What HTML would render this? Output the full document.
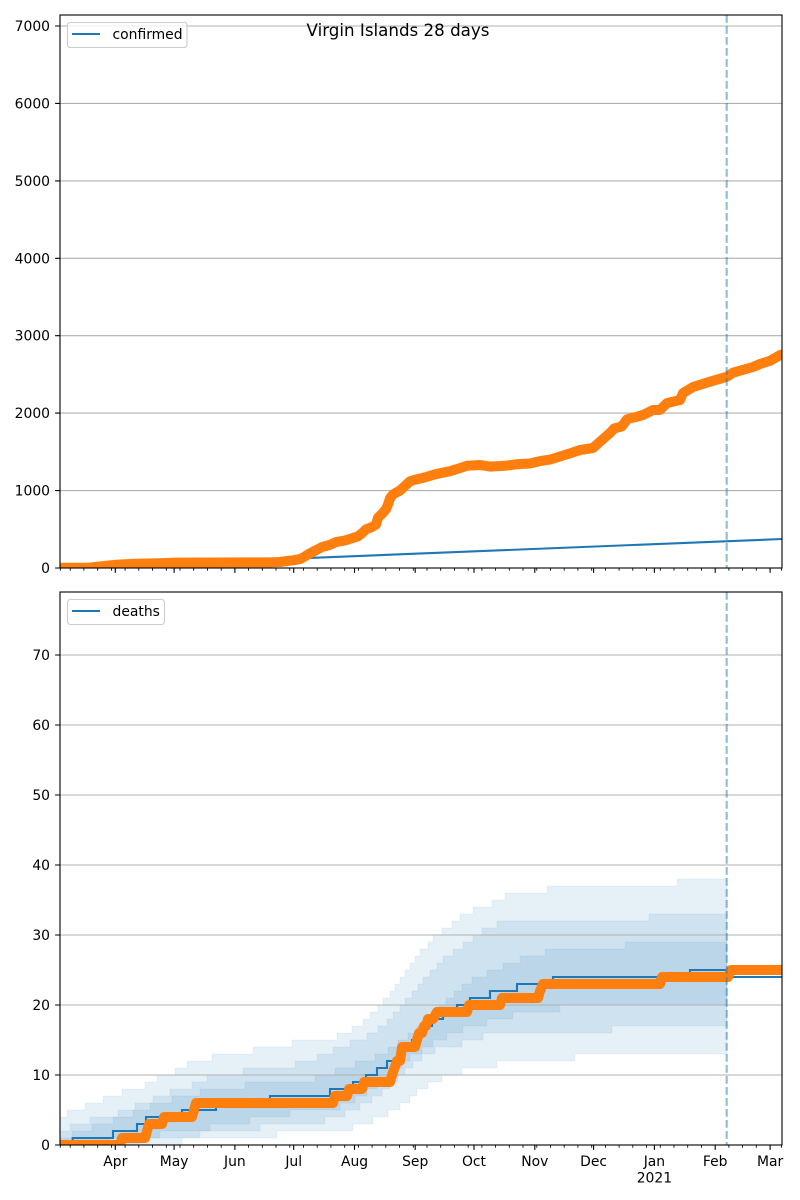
<!DOCTYPE html>
<html><head><meta charset="utf-8"><style>body{margin:0;background:#fff}svg{display:block}</style></head>
<body>
<svg width="800" height="1200" viewBox="0 0 800 1200" xmlns="http://www.w3.org/2000/svg" font-family="'DejaVu Sans','Liberation Sans',sans-serif" font-size="13.9" fill="#000">
<defs>
<clipPath id="c1"><rect x="60" y="15" width="722" height="553"/></clipPath>
<clipPath id="c2"><rect x="60" y="592" width="722" height="553"/></clipPath>
</defs>
<rect width="800" height="1200" fill="#fff"/>

<!-- ================= TOP AXES ================= -->
<g stroke="#b0b0b0" stroke-width="1.1">
<path d="M60 490.6H782M60 413.1H782M60 335.7H782M60 258.3H782M60 180.9H782M60 103.4H782M60 26H782"/>
</g>
<g clip-path="url(#c1)">
<line x1="60" y1="568" x2="782" y2="539" stroke="#1f77b4" stroke-width="2.1"/>
<polyline fill="none" stroke="#ff7f0e" stroke-width="10" stroke-linejoin="round" stroke-linecap="round" points="60,567.8 90,567.6 100,566.5 110,565.3 120,564.5 135,563.7 160,563.2 175,562.6 270,562.4 280,562.0 287,561.0 293,560.3 300,559.1 305,556.4 310,553.3 316,550.2 322,547.1 330,544.8 336,542.1 345,540.5 352,538.2 358,536.3 362,533.2 366,529.3 372,527.0 376,524.6 378,517.7 382,513.8 386,509.2 388,504.5 390,498.3 393,494.4 397,492.1 400,490.6 405,485.9 410,481.3 415,479.7 425,477.4 435,474.3 450,471.2 460,468.1 467,465.8 480,465.0 490,466.6 505,465.8 517,464.2 530,463.5 540,461.1 550,459.6 560,456.5 570,453.4 580,450.0 593,448.0 600,441.7 610,433.0 614,428.6 622,426.3 627,419.3 643,415.0 653,410.0 660,410.0 667,403.1 680,400.0 683,393.0 693,387.0 710,381.7 727,376.7 733,372.7 753,367.0 760,364.0 770,360.7 780,355.1 786,353.5"/>
<line x1="726.7" y1="15" x2="726.7" y2="568" stroke="#1f77b4" stroke-opacity="0.5" stroke-width="2.1" stroke-dasharray="7.7,3.3"/>
</g>
<rect x="60" y="15" width="722" height="553" fill="none" stroke="#000" stroke-width="1.1"/>
<!-- top y ticks -->
<path stroke="#000" stroke-width="1.1" d="M55.1 568h4.9M55.1 490.6h4.9M55.1 413.1h4.9M55.1 335.7h4.9M55.1 258.3h4.9M55.1 180.9h4.9M55.1 103.4h4.9M55.1 26h4.9"/>
<g text-anchor="end">
<text x="50" y="573">0</text>
<text x="50" y="495.6">1000</text>
<text x="50" y="418.1">2000</text>
<text x="50" y="340.7">3000</text>
<text x="50" y="263.3">4000</text>
<text x="50" y="185.9">5000</text>
<text x="50" y="108.4">6000</text>
<text x="50" y="31">7000</text>
</g>
<!-- top x ticks -->
<path stroke="#000" stroke-width="1.1" d="M115.3 568v4.9M174.1 568v4.9M234.9 568v4.9M293.7 568v4.9M354.5 568v4.9M415.2 568v4.9M474 568v4.9M534.8 568v4.9M593.6 568v4.9M654.4 568v4.9M715.2 568v4.9M770.1 568v4.9"/>
<path stroke="#000" stroke-width="0.85" d="M60.3 568v2.8M70.2 568v2.8M83.9 568v2.8M97.7 568v2.8M111.4 568v2.8M125.1 568v2.8M138.8 568v2.8M152.5 568v2.8M166.3 568v2.8M180 568v2.8M193.7 568v2.8M207.4 568v2.8M221.2 568v2.8M248.6 568v2.8M262.3 568v2.8M276 568v2.8M289.8 568v2.8M303.5 568v2.8M317.2 568v2.8M330.9 568v2.8M344.7 568v2.8M358.4 568v2.8M372.1 568v2.8M385.8 568v2.8M399.5 568v2.8M413.3 568v2.8M427 568v2.8M440.7 568v2.8M454.4 568v2.8M468.2 568v2.8M481.9 568v2.8M495.6 568v2.8M509.3 568v2.8M523 568v2.8M536.8 568v2.8M550.5 568v2.8M564.2 568v2.8M577.9 568v2.8M591.7 568v2.8M605.4 568v2.8M619.1 568v2.8M632.8 568v2.8M646.5 568v2.8M660.3 568v2.8M674 568v2.8M687.7 568v2.8M701.4 568v2.8M728.9 568v2.8M742.6 568v2.8M756.3 568v2.8M781.5 568v2.8"/>
<!-- top legend -->
<rect x="67.5" y="22.5" width="119.5" height="25" rx="2.8" fill="#fff" fill-opacity="0.8" stroke="#cccccc" stroke-width="1.1"/>
<line x1="72" y1="34" x2="100" y2="34" stroke="#1f77b4" stroke-width="2.1"/>
<text x="112.5" y="39">confirmed</text>
<!-- title -->
<text x="398" y="36" font-size="16.7" text-anchor="middle">Virgin Islands 28 days</text>

<!-- ================= BOTTOM AXES ================= -->
<g clip-path="url(#c2)">
<g fill="#1f77b4" fill-opacity="0.11" stroke="#1f77b4" stroke-opacity="0.06" stroke-width="1">
<path d="M60,1117 H67 V1110 H85 V1103 H103 V1096 H122 V1089 H145 V1082 H157 V1075 H175 V1068 H187 V1061 H212 V1054 H253 V1047 H292 V1040 H337 V1033 H352 V1026 H363 V1019 H370 V1012 H378 V1005 H383 V998 H390 V991 H395 V984 H400 V977 H405 V970 H410 V963 H415 V956 H420 V949 H428 V942 H433 V935 H442 V928 H452 V921 H460 V914 H473 V907 H492 V900 H505 V893 H547 V886 H677 V879 H727 V1054 H575 V1061 H497 V1068 H462 V1075 H442 V1082 H428 V1089 H417 V1096 H410 V1103 H400 V1110 H388 V1117 H373 V1124 H353 V1131 H277 V1138 H182 V1145 H60 Z"/>
<path d="M60,1131 H70 V1124 H90 V1117 H118 V1110 H135 V1103 H153 V1096 H170 V1089 H192 V1082 H207 V1075 H243 V1068 H295 V1061 H317 V1054 H333 V1047 H350 V1040 H367 V1033 H378 V1026 H387 V1019 H393 V1012 H400 V1005 H405 V998 H412 V991 H418 V984 H423 V977 H430 V970 H437 V963 H443 V956 H453 V949 H463 V942 H473 V935 H482 V928 H497 V921 H649 V914 H727 V1026 H612 V1033 H483 V1040 H462 V1047 H435 V1054 H422 V1061 H413 V1068 H405 V1075 H398 V1082 H390 V1089 H382 V1096 H372 V1103 H360 V1110 H345 V1117 H325 V1124 H260 V1131 H200 V1138 H140 V1145 H60 Z"/>
<path d="M60,1138 H72 V1131 H92 V1124 H113 V1117 H133 V1110 H150 V1103 H172 V1096 H200 V1089 H245 V1082 H315 V1075 H335 V1068 H355 V1061 H375 V1054 H388 V1047 H398 V1040 H408 V1033 H417 V1026 H425 V1019 H432 V1012 H439 V1005 H446 V998 H454 V991 H462 V984 H472 V977 H487 V970 H503 V963 H520 V956 H545 V949 H625 V942 H727 V1005 H560 V1012 H513 V1019 H487 V1026 H463 V1033 H447 V1040 H433 V1047 H422 V1054 H410 V1061 H402 V1068 H395 V1075 H387 V1082 H377 V1089 H367 V1096 H355 V1103 H340 V1110 H290 V1117 H250 V1124 H210 V1131 H160 V1138 H110 V1145 H60 Z"/>
</g>
</g>
<g stroke="#b0b0b0" stroke-width="1.1">
<path d="M60 1075H782M60 1005H782M60 935H782M60 865H782M60 795H782M60 725H782M60 655H782"/>
</g>
<g clip-path="url(#c2)">
<path fill="none" stroke="#1f77b4" stroke-width="2.1" d="M60,1145 H72.7 V1138 H113 V1131 H137 V1124 H146 V1117 H182 V1110 H216 V1103 H270 V1096 H330 V1089 H353 V1082 H366 V1075 H377 V1068 H387 V1061 H397 V1054 H405 V1047 H412 V1040 H418 V1033 H425 V1026 H432 V1019 H443 V1012 H457 V1005 H470 V998 H490 V991 H517 V984 H553 V977 H690 V970 H727 V977 H782"/>
<polyline fill="none" stroke="#ff7f0e" stroke-width="10" stroke-linejoin="round" stroke-linecap="round" points="60,1145 120,1145 122,1138 145,1138 147,1131 149,1124 162,1124 164,1117 192,1117 194,1110 196,1103 333,1103 335,1096 347,1096 349,1089 362,1089 364,1082 390,1082 392,1075 394.5,1068 397,1061 400,1061 402,1047 415,1047 417,1040 419,1033 422,1033 424,1026 426,1026 428,1019 433,1019 437,1012 467,1012 469,1005 500,1005 502,998 538,998 540,991 543,984 660,984 662,977 728,977 731,970 786,970"/>
<line x1="726.7" y1="592" x2="726.7" y2="1145" stroke="#1f77b4" stroke-opacity="0.5" stroke-width="2.1" stroke-dasharray="7.7,3.3"/>
</g>
<rect x="60" y="592" width="722" height="553" fill="none" stroke="#000" stroke-width="1.1"/>
<!-- bottom y ticks -->
<path stroke="#000" stroke-width="1.1" d="M55.1 1145h4.9M55.1 1075h4.9M55.1 1005h4.9M55.1 935h4.9M55.1 865h4.9M55.1 795h4.9M55.1 725h4.9M55.1 655h4.9"/>
<g text-anchor="end">
<text x="50" y="1150">0</text>
<text x="50" y="1080">10</text>
<text x="50" y="1010">20</text>
<text x="50" y="940">30</text>
<text x="50" y="870">40</text>
<text x="50" y="800">50</text>
<text x="50" y="730">60</text>
<text x="50" y="660">70</text>
</g>
<!-- bottom x ticks -->
<path stroke="#000" stroke-width="1.1" d="M115.3 1145v4.9M174.1 1145v4.9M234.9 1145v4.9M293.7 1145v4.9M354.5 1145v4.9M415.2 1145v4.9M474 1145v4.9M534.8 1145v4.9M593.6 1145v4.9M654.4 1145v4.9M715.2 1145v4.9M770.1 1145v4.9"/>
<path stroke="#000" stroke-width="0.85" d="M60.3 1145v2.8M70.2 1145v2.8M83.9 1145v2.8M97.7 1145v2.8M111.4 1145v2.8M125.1 1145v2.8M138.8 1145v2.8M152.5 1145v2.8M166.3 1145v2.8M180 1145v2.8M193.7 1145v2.8M207.4 1145v2.8M221.2 1145v2.8M248.6 1145v2.8M262.3 1145v2.8M276 1145v2.8M289.8 1145v2.8M303.5 1145v2.8M317.2 1145v2.8M330.9 1145v2.8M344.7 1145v2.8M358.4 1145v2.8M372.1 1145v2.8M385.8 1145v2.8M399.5 1145v2.8M413.3 1145v2.8M427 1145v2.8M440.7 1145v2.8M454.4 1145v2.8M468.2 1145v2.8M481.9 1145v2.8M495.6 1145v2.8M509.3 1145v2.8M523 1145v2.8M536.8 1145v2.8M550.5 1145v2.8M564.2 1145v2.8M577.9 1145v2.8M591.7 1145v2.8M605.4 1145v2.8M619.1 1145v2.8M632.8 1145v2.8M646.5 1145v2.8M660.3 1145v2.8M674 1145v2.8M687.7 1145v2.8M701.4 1145v2.8M728.9 1145v2.8M742.6 1145v2.8M756.3 1145v2.8M781.5 1145v2.8"/>
<g text-anchor="middle">
<text x="115.3" y="1166">Apr</text>
<text x="174.1" y="1166">May</text>
<text x="234.9" y="1166">Jun</text>
<text x="293.7" y="1166">Jul</text>
<text x="354.5" y="1166">Aug</text>
<text x="415.2" y="1166">Sep</text>
<text x="474" y="1166">Oct</text>
<text x="534.8" y="1166">Nov</text>
<text x="593.6" y="1166">Dec</text>
<text x="654.4" y="1166">Jan</text>
<text x="654.4" y="1182.5">2021</text>
<text x="715.2" y="1166">Feb</text>
<text x="770.1" y="1166">Mar</text>
</g>
<!-- bottom legend -->
<rect x="67.5" y="599.5" width="97" height="25" rx="2.8" fill="#fff" fill-opacity="0.8" stroke="#cccccc" stroke-width="1.1"/>
<line x1="72" y1="611" x2="100" y2="611" stroke="#1f77b4" stroke-width="2.1"/>
<text x="112.5" y="616">deaths</text>
</svg>
</body></html>
